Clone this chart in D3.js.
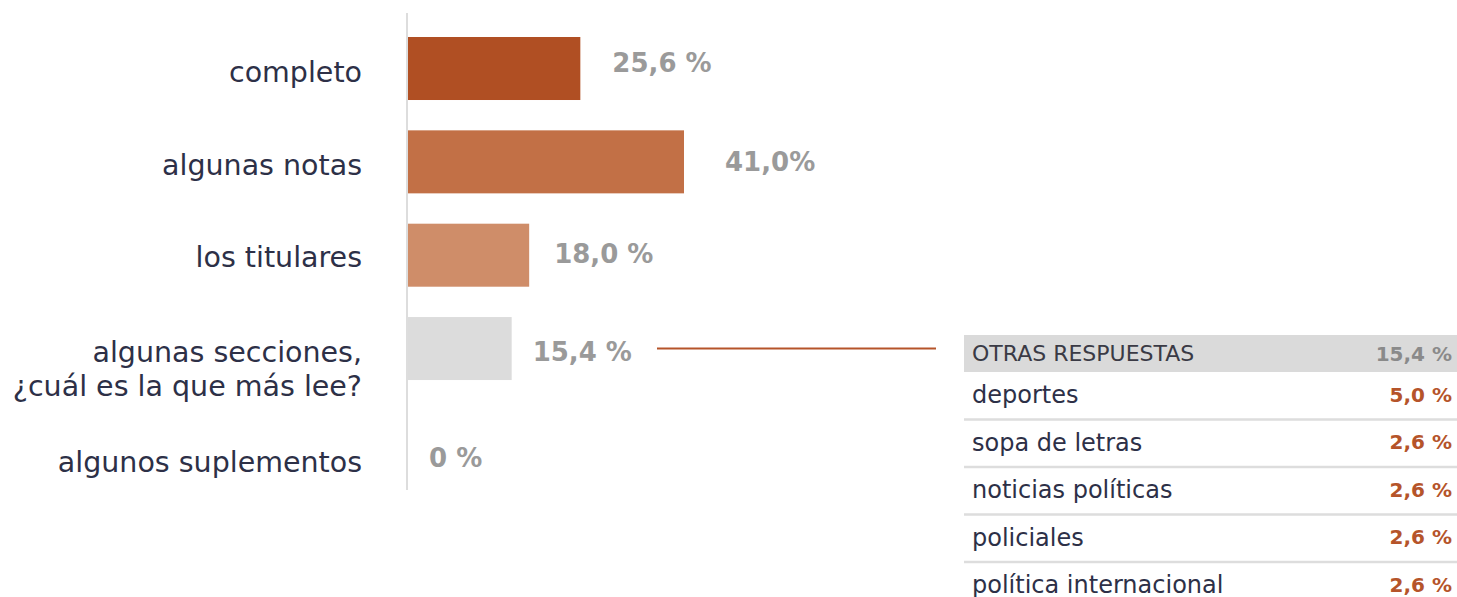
<!DOCTYPE html>
<html><head><meta charset="utf-8">
<script src="https://cdn.jsdelivr.net/npm/d3@7"></script>
<style>body{margin:0;background:#fff;} svg{display:block;}</style>
</head><body>
<svg id="c" width="1457" height="597"></svg>
<script>
const categories = ["completo", "algunas notas", "los titulares", "algunas secciones,\n¿cuál es la que más lee?", "algunos suplementos"];
const values = [25.6, 41.0, 18.0, 15.4, 0];
const valueLabels = ["25,6 %", "41,0%", "18,0 %", "15,4 %", "0 %"];
const barColors = ["#b04f23", "#c27046", "#cf8d69", "#dcdcdc", "#dcdcdc"];

const otherHeader = ["OTRAS RESPUESTAS", "15,4 %"];
const otherCategories = ["deportes", "sopa de letras", "noticias políticas", "policiales", "política internacional"];
const otherLabels = ["5,0 %", "2,6 %", "2,6 %", "2,6 %", "2,6 %"];

const FONT = "'DejaVu Sans', sans-serif";
const svg = d3.select("#c");

const x = d3.scaleLinear().domain([0, 41]).range([408, 684]);
const y = d3.scaleBand().domain(categories).range([37, 473.4]).paddingInner(0.325).paddingOuter(0);

// small per-row label nudges (style only)
const catShift = [4, 3, 2, 20, 20];
const valDx = [32, 41, 25, 21, 21];
const valDy = [-6, 0, -1, 3, 16];

// axis line
svg.append("line").attr("x1", 407).attr("x2", 407).attr("y1", 13).attr("y2", 490)
  .attr("stroke", "#dddddd").attr("stroke-width", 2);

svg.selectAll("rect.bar").data(values).join("rect").attr("class", "bar")
  .attr("x", x(0)).attr("y", (d, i) => y(categories[i]))
  .attr("width", d => x(d) - x(0)).attr("height", y.bandwidth())
  .attr("fill", (d, i) => barColors[i]);

svg.selectAll("text.val").data(values).join("text").attr("class", "val")
  .attr("x", (d, i) => x(d) + valDx[i]).attr("y", (d, i) => y(categories[i]) + y.bandwidth() / 2 + valDy[i])
  .attr("dy", "0.35em")
  .attr("font-family", FONT).attr("font-weight", "bold").attr("font-size", 26)
  .attr("fill", "#9a9a9a").text((d, i) => valueLabels[i]);

const cat = svg.selectAll("text.cat").data(categories).join("text").attr("class", "cat")
  .attr("text-anchor", "end").attr("font-family", FONT).attr("font-size", 28.5)
  .attr("fill", "#2d3047");
cat.each(function (d, i) {
  const lines = d.split("\n");
  const cy = y(d) + y.bandwidth() / 2 + catShift[i];
  const t = d3.select(this);
  lines.forEach((l, k) => {
    t.append("tspan").attr("x", 362)
      .attr("y", cy + (k - (lines.length - 1) / 2) * 34)
      .attr("dy", "0.35em").text(l);
  });
});

// connector
const cy4 = y(categories[3]) + y.bandwidth() / 2;
svg.append("line").attr("x1", 657).attr("x2", 936).attr("y1", cy4).attr("y2", cy4)
  .attr("stroke", "#b5542a").attr("stroke-width", 2);

// table
const tx0 = 964, tx1 = 1457;
svg.append("rect").attr("x", tx0).attr("y", 335).attr("width", tx1 - tx0).attr("height", 37).attr("fill", "#dadada");
svg.append("text").attr("x", 972).attr("y", 353.5).attr("dy", "0.35em")
  .attr("font-family", FONT).attr("font-size", 22).attr("fill", "#3a3a45").text(otherHeader[0]);
svg.append("text").attr("x", 1452).attr("y", 353.5).attr("dy", "0.35em").attr("text-anchor", "end")
  .attr("font-family", FONT).attr("font-weight", "bold").attr("font-size", 20).attr("fill", "#8a8a8a").text(otherHeader[1]);

const ty = d3.scaleBand().domain(otherCategories).range([372, 609.5]);
svg.selectAll("line.div").data(otherCategories.slice(1)).join("line").attr("class", "div")
  .attr("x1", tx0).attr("x2", tx1).attr("y1", d => ty(d)).attr("y2", d => ty(d))
  .attr("stroke", "#dddddd").attr("stroke-width", 2.5);
svg.selectAll("text.oc").data(otherCategories).join("text").attr("class", "oc")
  .attr("x", 972).attr("y", d => ty(d) + ty.bandwidth() / 2 - 1).attr("dy", "0.35em")
  .attr("font-family", FONT).attr("font-size", 24).attr("fill", "#2d3047").text(d => d);
svg.selectAll("text.ov").data(otherLabels).join("text").attr("class", "ov")
  .attr("x", 1452).attr("y", (d, i) => ty(otherCategories[i]) + ty.bandwidth() / 2 - 1).attr("dy", "0.35em")
  .attr("text-anchor", "end").attr("font-family", FONT).attr("font-weight", "bold").attr("font-size", 20)
  .attr("fill", "#b5542a").text(d => d);
</script>
</body></html>
